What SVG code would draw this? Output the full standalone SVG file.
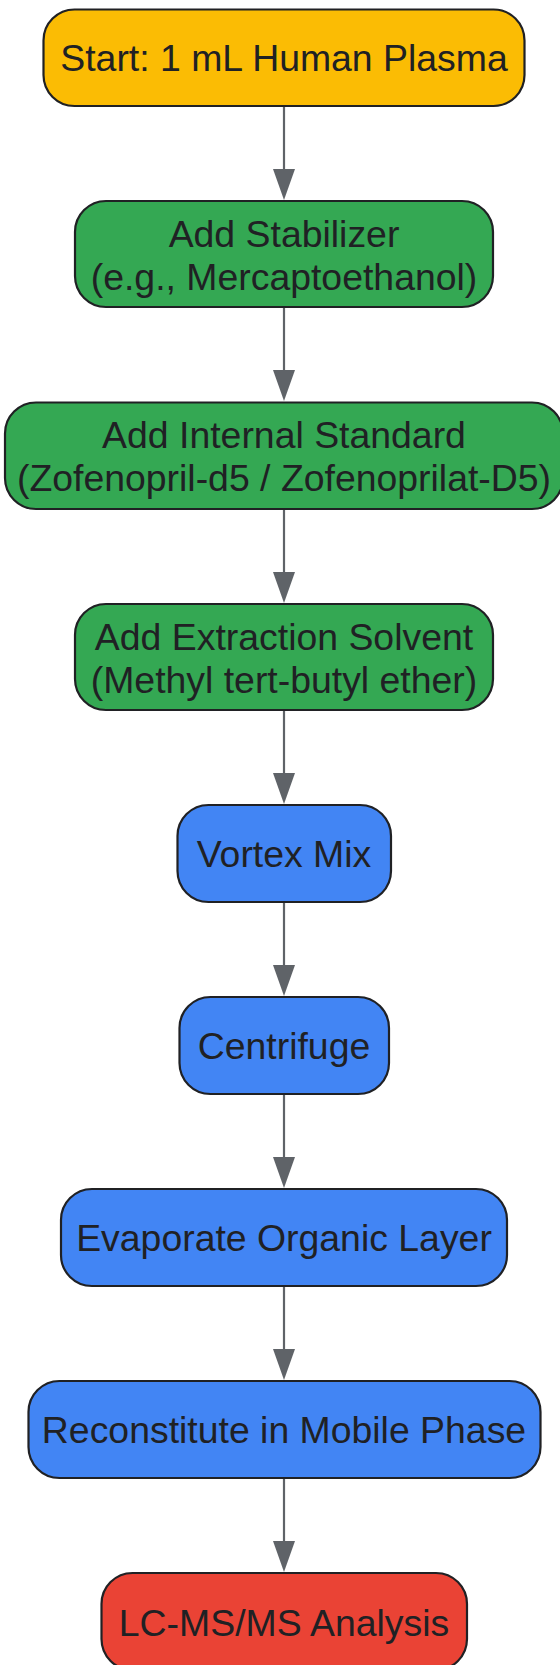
<svg xmlns="http://www.w3.org/2000/svg" width="560" height="1665" viewBox="0 0 560 1665">
<style>
.n{stroke:#202124;stroke-width:2.2}
.t{font-family:"Liberation Sans",Arial,sans-serif;font-size:37.4px;fill:#202124;text-anchor:middle}
.y{fill:#FBBC04}.g{fill:#34A853}.b{fill:#4285F4}.r{fill:#EA4335}
.e{stroke:#5F6368;stroke-width:2.2;fill:none}
</style>
<defs>
<marker id="ah" viewBox="0 0 31 22" refX="26" refY="11" markerWidth="31" markerHeight="22" markerUnits="userSpaceOnUse" orient="auto">
<path d="M0,0 L31,11 L0,22 z" fill="#5F6368"/>
</marker>
</defs>
<g id="edges">
<line class="e" x1="284" y1="106" x2="284" y2="195" marker-end="url(#ah)"/>
<line class="e" x1="284" y1="307" x2="284" y2="396" marker-end="url(#ah)"/>
<line class="e" x1="284" y1="509" x2="284" y2="598" marker-end="url(#ah)"/>
<line class="e" x1="284" y1="710" x2="284" y2="799" marker-end="url(#ah)"/>
<line class="e" x1="284" y1="902" x2="284" y2="991" marker-end="url(#ah)"/>
<line class="e" x1="284" y1="1094" x2="284" y2="1183" marker-end="url(#ah)"/>
<line class="e" x1="284" y1="1286" x2="284" y2="1375" marker-end="url(#ah)"/>
<line class="e" x1="284" y1="1478" x2="284" y2="1567" marker-end="url(#ah)"/>
</g>
<g id="start">
<rect class="n y" x="43.5" y="9.5" width="481" height="96.5" rx="31"/>
<text class="t" x="284" y="71">Start: 1 mL Human Plasma</text>
</g>
<g id="stabilizer">
<rect class="n g" x="75" y="201" width="418" height="106" rx="31"/>
<text class="t" x="284" y="247">Add Stabilizer</text>
<text class="t" x="284" y="290">(e.g., Mercaptoethanol)</text>
</g>
<g id="internal_standard">
<rect class="n g" x="5" y="402.5" width="558" height="106.5" rx="31"/>
<text class="t" x="284" y="448">Add Internal Standard</text>
<text class="t" x="284" y="491">(Zofenopril-d5 / Zofenoprilat-D5)</text>
</g>
<g id="extraction_solvent">
<rect class="n g" x="75" y="604" width="418" height="106" rx="31"/>
<text class="t" x="284" y="650">Add Extraction Solvent</text>
<text class="t" x="284" y="693">(Methyl tert-butyl ether)</text>
</g>
<g id="vortex">
<rect class="n b" x="177.5" y="805" width="213.5" height="97" rx="31"/>
<text class="t" x="284" y="867">Vortex Mix</text>
</g>
<g id="centrifuge">
<rect class="n b" x="179.5" y="997" width="209.5" height="97" rx="31"/>
<text class="t" x="284" y="1059">Centrifuge</text>
</g>
<g id="evaporate">
<rect class="n b" x="61" y="1189" width="446" height="97" rx="31"/>
<text class="t" x="284" y="1251">Evaporate Organic Layer</text>
</g>
<g id="reconstitute">
<rect class="n b" x="28.5" y="1381" width="512" height="97" rx="31"/>
<text class="t" x="284" y="1443">Reconstitute in Mobile Phase</text>
</g>
<g id="analysis">
<rect class="n r" x="101.5" y="1573" width="365.5" height="97" rx="31"/>
<text class="t" x="284" y="1636">LC-MS/MS Analysis</text>
</g>
</svg>
